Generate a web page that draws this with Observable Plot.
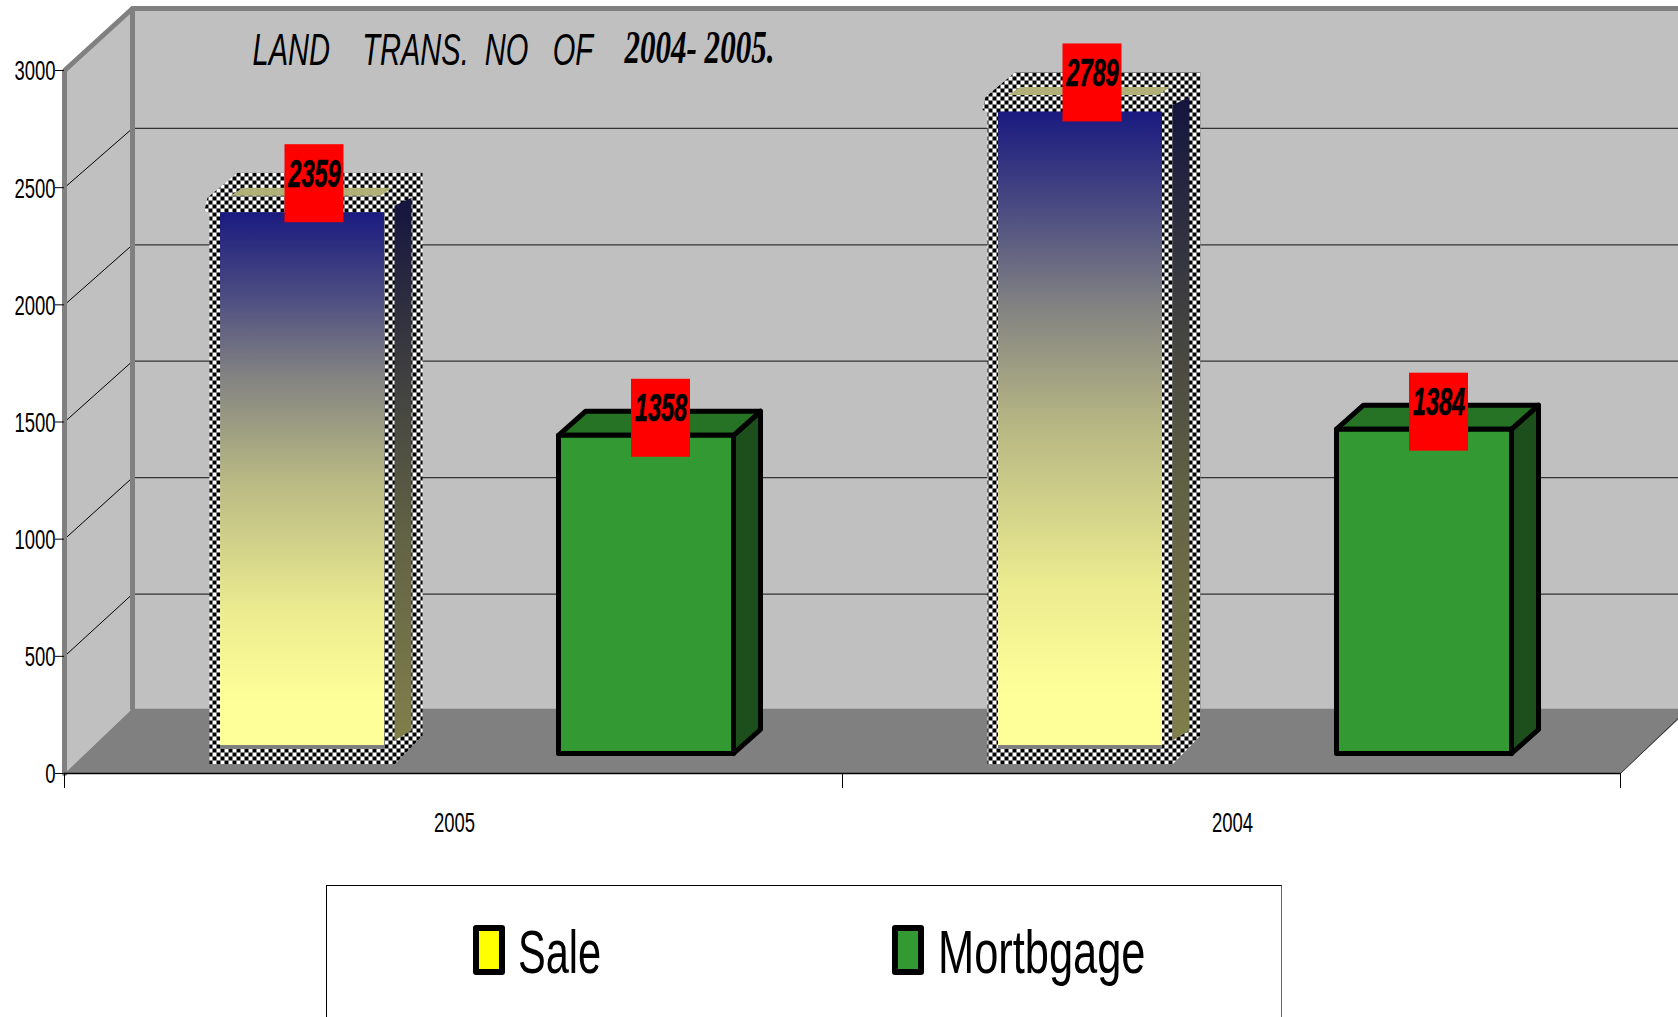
<!DOCTYPE html>
<html>
<head>
<meta charset="utf-8">
<script src="https://cdn.jsdelivr.net/npm/d3@7"></script>
<script src="https://cdn.jsdelivr.net/npm/@observablehq/plot@0.6"></script>
<style>
html,body{margin:0;padding:0;background:#fff;overflow:hidden;width:1678px;height:1017px}
#chart svg{display:block}
#chart svg text{white-space:pre}
#legend{position:relative;margin:25px 0 0 326px;width:956px;height:200px;border-top:1px solid #000;border-left:1px solid #000;border-right:1px solid #666;box-sizing:border-box;font-family:"Liberation Sans",Arial,sans-serif}
.swatch{position:absolute;top:39px;width:20px;height:38px;border:6px solid #000;border-radius:3px}
.lab{position:absolute;top:35px;font-size:62px;line-height:62px;transform-origin:left top;white-space:pre;color:#000}
</style>
</head>
<body>
<div id="chart"></div>
<div id="legend"></div>
<script>
const categories = ["2005", "2004"];
const saleValues = [2359, 2789];
const mortgageValues = [1358, 1384];
const yTicks = [0, 500, 1000, 1500, 2000, 2500, 3000];
const seriesNames = ["Sale", "Mortbgage"];
const seriesSwatches = ["#ffff00", "#339933"];
const titleLeft = "LAND    TRANS.  NO   OF";
const titleRight = "2004- 2005.";

// scale helpers: convert pixel-sized 3D offsets into data units
const X = (slot, px = 0) => slot + px / 778;
const Y = (value, px = 0) => value - px * 3000 / 703;   // +px = downward
const BASE_PX = -20;      // bars stand this far behind the front edge of the floor
const backValue = v => v * 0.9936 + 269;

const poly = (id, pts) => pts.map(([x, y]) => ({id, x, y}));

// Walls
const SX = X(0, 68), EX = X(2, 70);
const leftWall = poly("l", [[X(0), Y(0)], [X(0), Y(3000)], [SX, Y(3000, -60)], [SX, Y(0, -65)]]);
const backWall = poly("b", [[SX, Y(3000, -63)], [EX, Y(3000, -63)], [EX, Y(0, -65)], [SX, Y(0, -65)]]);
const floorP   = poly("f", [[X(0), Y(0)], [SX, Y(0, -65)], [EX, Y(0, -65)], [X(2), Y(0)]]);
const wallFrame = poly("w", [[X(0), Y(0)], [X(0), Y(3000)], [X(0, 68), Y(3000, -62)], [EX, Y(3000, -62)]]);
const wallInner = poly("i", [[X(0, 68), Y(3000, -62)], [X(0, 68), Y(0, -65)]]);
const grid = yTicks.slice(1, -1);

// Bars
const saleFaces = {checker: [], face: [], strip: [], top: [], side: []};
const greenFaces = {face: [], top: [], side: []};
const labelRows = [];

categories.forEach((cat, i) => {
  // Sale bar, with its checkered outline
  {
    const v = saleValues[i], L = 150, R = 325;
    const B = BASE_PX;
    const x = p => X(i, p);
    const yTop = p => Y(v, B + p);   // px relative to bar top
    const yBase = p => Y(0, B + p);  // px relative to bar base
    saleFaces.checker.push(...poly("c" + i, [
      [x(L - 5), yBase(11)], [x(L - 5), yTop(12)], [x(L - 10), yTop(10)], [x(L - 7), yTop(-3)],
      [x(L + 23), yTop(-28)], [x(R + 33), yTop(-28)], [x(R + 33), yBase(-18)], [x(R + 5), yBase(11)]
    ]));
    saleFaces.face.push({i, x1: x(L + 6), x2: x(R - 5), y1: yTop(12), y2: yBase(-8)});
    saleFaces.strip.push({i, x1: x(L + 6), x2: x(R - 5), y1: yBase(-8), y2: yBase(-4)});
    saleFaces.top.push(...poly("t" + i, [
      [x(L + 28), yTop(-13)], [x(R + 3), yTop(-13)], [x(R - 9), yTop(-5)], [x(L + 16), yTop(-5)]
    ]));
    saleFaces.side.push(...poly("s" + i, [
      [x(R + 5), yTop(5)], [x(R + 22), yTop(-3)], [x(R + 22), yBase(-23)], [x(R + 5), yBase(-13)]
    ]));
    labelRows.push({v, cx: x((L + R) / 2 + 12.5), base: B});
  }
  // Mortgage bar
  {
    const v = mortgageValues[i], L = 494, R = 669, DX = 27, DY = 24;
    const B = BASE_PX;
    const x = p => X(i, p);
    greenFaces.side.push(...poly("gs" + i, [
      [x(R), Y(v, B)], [x(R + DX), Y(v, B - DY)], [x(R + DX), Y(0, B - DY)], [x(R), Y(0, B)], [x(R), Y(v, B)]
    ]));
    greenFaces.top.push(...poly("gt" + i, [
      [x(L), Y(v, B)], [x(L + DX), Y(v, B - DY)], [x(R + DX), Y(v, B - DY)], [x(R), Y(v, B)], [x(L), Y(v, B)]
    ]));
    greenFaces.face.push(...poly("gf" + i, [
      [x(L), Y(v, B)], [x(R), Y(v, B)], [x(R), Y(0, B)], [x(L), Y(0, B)], [x(L), Y(v, B)]
    ]));
    labelRows.push({v, cx: x((L + R) / 2 + 15), base: B});
  }
});

function defs() {
  const d = d3.create("svg:defs");
  const pat = d.append("pattern").attr("id", "chk").attr("patternUnits", "userSpaceOnUse")
    .attr("width", 8).attr("height", 8);
  pat.append("rect").attr("width", 8).attr("height", 8).attr("fill", "#fff");
  pat.append("rect").attr("width", 4).attr("height", 4).attr("fill", "#000");
  pat.append("rect").attr("x", 4).attr("y", 4).attr("width", 4).attr("height", 4).attr("fill", "#000");
  const grad = (id, stops) => {
    const g = d.append("linearGradient").attr("id", id).attr("x1", 0).attr("x2", 0).attr("y1", 0).attr("y2", 1);
    stops.forEach(([o, c]) => g.append("stop").attr("offset", o).attr("stop-color", c));
  };
  grad("faceG", [[0, "#1a1a80"], [0.15, "#4a4a82"], [0.3, "#808082"], [0.5, "#b8b884"], [0.75, "#ecec90"], [0.92, "#ffff99"], [1, "#ffff99"]]);
  grad("sideG", [[0, "#14143f"], [0.3, "#3c3c40"], [0.6, "#606045"], [1, "#80804c"]]);
  return d.node();
}

const plot = Plot.plot({
  width: 1678,
  height: 860,
  marginLeft: 64,
  marginRight: 58,
  marginTop: 70,
  marginBottom: 87,
  x: {domain: [0, 2], axis: null},
  y: {domain: [0, 3000], axis: null},
  style: {fontFamily: "'Liberation Sans', Arial, sans-serif", background: "transparent", overflow: "visible"},
  marks: [
    defs,
    Plot.line(leftWall, {x: "x", y: "y", z: "id", fill: "#c0c0c0", stroke: "none"}),
    Plot.line(backWall, {x: "x", y: "y", z: "id", fill: "#c0c0c0", stroke: "none"}),
    Plot.ruleY(grid.map(backValue), {x1: SX, x2: EX, stroke: "#333", strokeWidth: 1.3}),
    Plot.link(grid, {x1: 0, y1: d => d, x2: SX, y2: backValue, stroke: "#000", strokeWidth: 1}),
    Plot.line(floorP, {x: "x", y: "y", z: "id", fill: "#808080", stroke: "none"}),
    Plot.line(wallFrame, {x: "x", y: "y", z: "id", stroke: "#808080", strokeWidth: 5, strokeLinejoin: "miter"}),
    Plot.line(wallInner, {x: "x", y: "y", z: "id", stroke: "#808080", strokeWidth: 5}),
    Plot.link([0], {x1: X(2), y1: 0, x2: EX, y2: Y(0, -67), stroke: "#333", strokeWidth: 1}),
    Plot.ruleY([0], {x1: 0, x2: 2, stroke: "#000", strokeWidth: 1.3}),
    Plot.axisY({ticks: yTicks, tickFormat: () => "", tickSize: 9, label: null, stroke: "#000"}),
    Plot.axisY({ticks: yTicks, tickFormat: "d", tickSize: 0, tickPadding: 9, fontSize: 28, dy: 1, label: null, stroke: "none"}),
    Plot.axisX({ticks: [0, 1, 2], tickFormat: () => "", tickSize: 15, label: null, stroke: "#000"}),
    Plot.axisX({ticks: [0.5, 1.5], tickFormat: d => categories[Math.floor(d)], tickSize: 0, tickPadding: 39, fontSize: 28, dx: 1, label: null, stroke: "none"}),

    Plot.line(saleFaces.checker, {x: "x", y: "y", z: "id", fill: "url(#chk)", stroke: "none"}),
    Plot.rect(saleFaces.strip, {x1: "x1", x2: "x2", y1: "y1", y2: "y2", fill: "#808080"}),
    Plot.rect(saleFaces.face, {x1: "x1", x2: "x2", y1: "y1", y2: "y2", fill: "url(#faceG)"}),
    Plot.line(saleFaces.top, {x: "x", y: "y", z: "id", fill: "#b0b078", stroke: "none"}),
    Plot.line(saleFaces.side, {x: "x", y: "y", z: "id", fill: "url(#sideG)", stroke: "none"}),

    Plot.line(greenFaces.side, {x: "x", y: "y", z: "id", fill: "#1c4f1c", stroke: "#000", strokeWidth: 5}),
    Plot.line(greenFaces.top, {x: "x", y: "y", z: "id", fill: "#267326", stroke: "#000", strokeWidth: 5}),
    Plot.line(greenFaces.face, {x: "x", y: "y", z: "id", fill: "#339933", stroke: "#000", strokeWidth: 5}),

    Plot.rect(labelRows, {
      x1: d => d.cx - 29.5 / 778, x2: d => d.cx + 29.5 / 778,
      y1: d => Y(d.v, d.base + 22), y2: d => Y(d.v, d.base - 56), fill: "#ff0000"
    }),
    Plot.text(labelRows, {
      x: "cx", y: d => Y(d.v, d.base - 26), text: d => String(d.v),
      fontSize: 38, fontWeight: "bold", fontStyle: "italic", fill: "#000", stroke: "#000", strokeWidth: 0.6,
      lineAnchor: "middle", textAnchor: "middle"
    }),
    Plot.text([titleLeft], {
      x: X(0, 188), y: Y(3000, -6), text: d => d, textAnchor: "start", lineAnchor: "bottom",
      fontSize: 44, fontStyle: "italic", fill: "#000"
    }),
    Plot.text([titleRight], {
      x: X(0, 560), y: Y(3000, -8), text: d => d, textAnchor: "start", lineAnchor: "bottom",
      fontSize: 47, fontStyle: "italic", fontWeight: "bold", fontFamily: "'Liberation Serif', 'Times New Roman', serif", fill: "#000"
    })
  ]
});
document.getElementById("chart").append(plot);

// The original is squeezed horizontally: narrow all the text by the same factor.
plot.querySelectorAll("text").forEach(t => {
  const len = t.getComputedTextLength();
  if (len > 0) {
    t.setAttribute("textLength", len * (parseFloat(getComputedStyle(t).fontSize) === 38 ? 0.62 : 0.66));
    t.setAttribute("lengthAdjust", "spacingAndGlyphs");
  }
});

const legend = d3.select("#legend");
const swatchLeft = [146, 565];
const labelLeft = [191, 611];
const labelSqueeze = [0.67, 0.7];
seriesNames.forEach((name, i) => {
  legend.append("div").attr("class", "swatch").style("left", swatchLeft[i] + "px").style("background", seriesSwatches[i]);
  legend.append("span").attr("class", "lab").style("left", labelLeft[i] + "px")
    .style("transform", `scaleX(${labelSqueeze[i]})`).text(name);
});
</script>
</body>
</html>
